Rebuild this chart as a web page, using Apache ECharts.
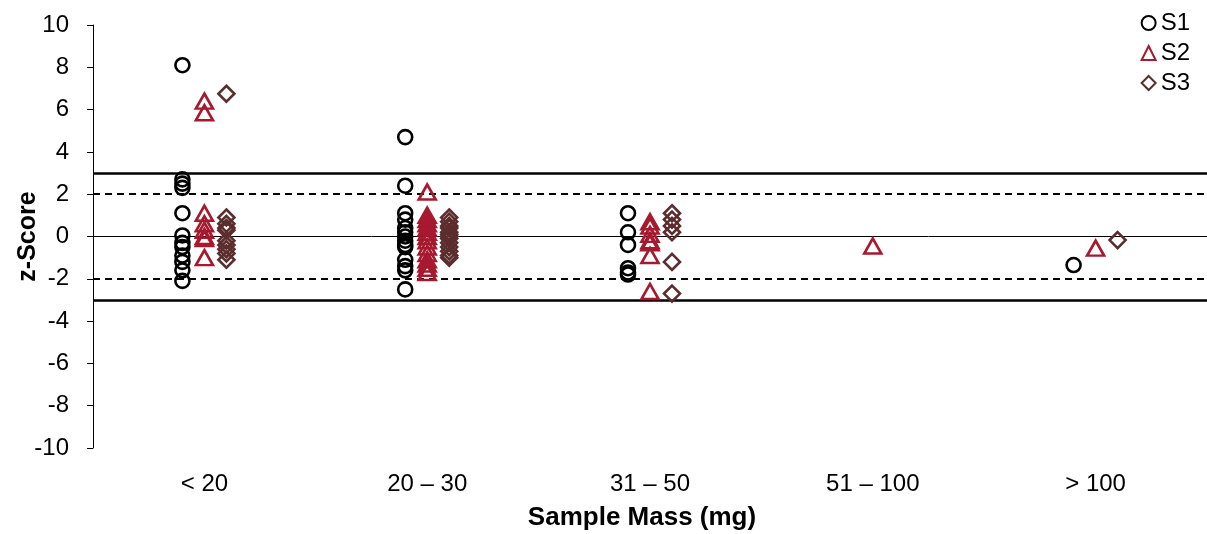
<!DOCTYPE html>
<html>
<head>
<meta charset="utf-8">
<script src="https://cdn.jsdelivr.net/npm/echarts@6/dist/echarts.min.js"></script>
<style>
  html, body { margin: 0; padding: 0; background: #fff; }
  #chart { width: 1207px; height: 534px; }
</style>
</head>
<body>
<div id="chart"></div>
<script>
var categories = ['< 20', '20 – 30', '31 – 50', '51 – 100', '> 100'];

// z-scores per mass class
var s1 = {
  '< 20': [8.1, 2.7, 2.5, 2.3, 1.1, 0.05, -0.3, -0.5, -0.9, -1.2, -1.6, -2.1],
  '20 – 30': [4.7, 2.4, 1.1, 0.8, 0.4, 0.2, 0.0, -0.2, -0.4, -0.5, -1.1, -1.4, -1.6, -2.5],
  '31 – 50': [1.1, 0.2, -0.4, -1.5, -1.7, -1.8],
  '51 – 100': [],
  '> 100': [-1.35]
};
var s2 = {
  '< 20': [6.4, 5.85, 1.1, 0.6, 0.3, 0.0, -0.1, -1.0],
  '20 – 30': [2.1, 1.0, 0.8, 0.6, 0.4, 0.2, 0.0, -0.2, -0.5, -0.8, -1.1, -1.3, -1.5, -1.7],
  '31 – 50': [0.7, 0.5, 0.1, -0.2, -0.3, -0.9, -2.6],
  '51 – 100': [-0.45],
  '> 100': [-0.55]
};
var s3 = {
  '< 20': [6.75, 0.9, 0.6, 0.4, 0.3, -0.2, -0.4, -0.6, -0.8, -1.1],
  '20 – 30': [0.9, 0.7, 0.5, 0.4, 0.2, 0.1, 0.0, -0.1, -0.3, -0.5, -0.7, -0.9, -1.0],
  '31 – 50': [1.1, 0.8, 0.5, 0.2, -1.2, -2.7],
  '51 – 100': [],
  '> 100': [-0.17]
};
var yTicks = [-10, -8, -6, -4, -2, 0, 2, 4, 6, 8, 10];
var limitsSolid = [3, -3];
var limitsDashed = [2, -2];

function toPoints(obj) {
  var pts = [];
  categories.forEach(function (c) {
    obj[c].forEach(function (v) { pts.push([c, v]); });
  });
  return pts;
}

var chart = echarts.init(document.getElementById('chart'));

var font = 'Liberation Sans, Arial, sans-serif';
var refLines = [];
limitsSolid.forEach(function (v) {
  refLines.push({ yAxis: v, lineStyle: { type: 'solid', width: 2.5, color: '#000' } });
});
limitsDashed.forEach(function (v) {
  refLines.push({ yAxis: v, lineStyle: { type: [7, 5], width: 2, color: '#000' } });
});
refLines.push({ yAxis: 0, lineStyle: { type: 'solid', width: 1, color: '#000' } });

var option = {
  animation: false,
  textStyle: { fontFamily: font },
  grid: { left: 93, right: 0, top: 25, bottom: 86, outerBoundsMode: 'none', containLabel: false },
  legend: {
    orient: 'vertical',
    right: 12,
    top: 6,
    itemWidth: 14,
    itemHeight: 14,
    itemGap: 6,
    textStyle: { fontSize: 24, color: '#000', fontFamily: font },
    data: ['S1', 'S2', 'S3']
  },
  xAxis: {
    type: 'category',
    data: categories,
    boundaryGap: true,
    axisLine: { show: false },
    axisTick: { show: false },
    axisLabel: { fontSize: 24, color: '#000', margin: 24 },
    name: 'Sample Mass (mg)',
    nameLocation: 'middle',
    nameGap: 57,
    nameMoveOverlap: false,
    nameTextStyle: { fontSize: 26, fontWeight: 'bold', color: '#000', padding: [0, 16, 0, 0] }
  },
  yAxis: {
    type: 'value',
    min: -10,
    max: 10,
    interval: 2,
    axisLine: { show: true, lineStyle: { color: '#000', width: 1 } },
    axisTick: { show: true, length: 6, lineStyle: { color: '#000' } },
    axisLabel: {
      fontSize: 24, color: '#000', margin: 24,
      formatter: function (v) { return yTicks.indexOf(v) >= 0 ? String(v) : ''; }
    },
    splitLine: { show: false },
    name: 'z-Score',
    nameLocation: 'middle',
    nameGap: 52,
    nameMoveOverlap: false,
    nameTextStyle: { fontSize: 25, fontWeight: 'bold', color: '#000' }
  },
  series: [
    {
      name: 'S1',
      type: 'scatter',
      symbol: 'circle',
      symbolSize: 14,
      symbolOffset: [-22, 0],
      itemStyle: { color: 'rgba(255,255,255,0)', borderColor: '#000', borderWidth: 2.6, opacity: 1 },
      data: toPoints(s1),
      z: 3,
      markLine: {
        silent: true,
        symbol: 'none',
        label: { show: false },
        data: refLines,
        z: 1
      }
    },
    {
      name: 'S2',
      type: 'scatter',
      symbol: 'triangle',
      symbolSize: [17, 15],
      symbolOffset: [0, 0],
      itemStyle: { color: 'rgba(255,255,255,0)', borderColor: '#a6192e', borderWidth: 2.6, opacity: 1 },
      data: toPoints(s2),
      z: 3
    },
    {
      name: 'S3',
      type: 'scatter',
      symbol: 'diamond',
      symbolSize: 16,
      symbolOffset: [22, 0],
      itemStyle: { color: 'rgba(255,255,255,0)', borderColor: '#5c2d2d', borderWidth: 2.6, opacity: 1 },
      data: toPoints(s3),
      z: 3
    }
  ]
};

chart.setOption(option);
</script>
</body>
</html>
